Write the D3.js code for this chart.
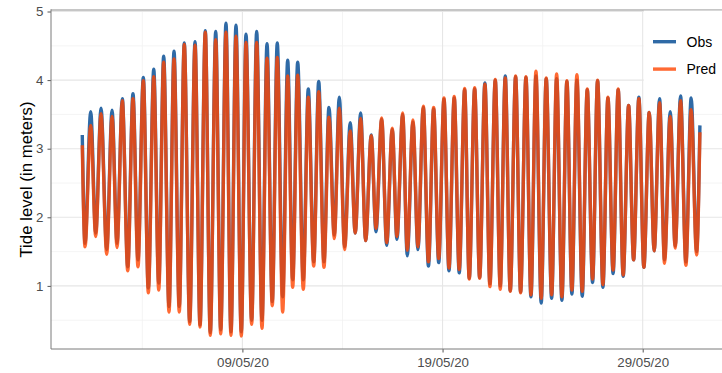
<!DOCTYPE html>
<html>
<head>
<meta charset="utf-8">
<script src="https://cdn.jsdelivr.net/npm/d3@7"></script>
<style>
  html, body { margin: 0; padding: 0; background: #fff; }
  svg { display: block; font-family: "Liberation Sans", Arial, sans-serif; }
</style>
</head>
<body>
<svg id="chart" width="722" height="373"></svg>
<script>
// Tide record, May 2020: first reading at 00:00 on 1 May, then each low and
// high water in turn, then the last reading. Times are hours after 1 May 00:00.
const tideHours = [
  0, 3.3, 10.1, 16.1, 22.5, 29.3, 35.7, 41.7, 48.0, 54.5, 60.8, 66.8, 73.2, 79.2,
  85.7, 91.7, 97.6, 104.0, 110.0, 116.3, 122.3, 128.8, 135.2, 141.2, 147.5, 153.5,
  160.0, 166.0, 172.3, 178.3, 184.3, 190.7, 196.3, 203.1, 209.1, 215.5, 221.5,
  227.8, 233.8, 240.3, 246.3, 252.3, 258.3, 265.0, 271.0, 277.5, 283.5, 289.8,
  295.8, 302.2, 308.2, 314.6, 321.3, 327.3, 333.8, 339.8, 346.5, 352.2, 359.0,
  365.0, 371.7, 377.3, 384.2, 389.7, 396.5, 402.5, 408.9, 415.1, 421.3, 427.4,
  433.7, 439.7, 446.0, 452.0, 458.5, 464.0, 470.5, 476.5, 482.8, 488.8, 495.2,
  501.2, 507.2, 513.2, 519.6, 525.6, 532.0, 538.0, 544.0, 550.3, 556.3, 562.8,
  568.8, 575.1, 581.1, 587.1, 593.1, 599.5, 605.5, 611.9, 617.9, 624.3, 630.3,
  636.5, 642.6, 648.6, 655.1, 661.1, 667.4, 673.4, 679.8, 685.8, 692.2, 698.2,
  705.0, 711.0, 717.4, 723.8, 730.1, 736.6, 740.6
];

// Observed water level (m) at those times
const obsLevel = [
  3.20, 1.62, 3.54, 1.77, 3.59, 1.53, 3.56, 1.62, 3.73, 1.28, 3.80, 1.38, 4.04, 0.97,
  4.16, 1.04, 4.35, 0.70, 4.42, 0.70, 4.54, 0.48, 4.56, 0.43, 4.72, 0.32, 4.71, 0.36,
  4.83, 0.33, 4.80, 0.33, 4.67, 0.50, 4.71, 0.50, 4.53, 0.77, 4.54, 0.84, 4.29, 1.09,
  4.26, 1.09, 3.87, 1.35, 3.98, 1.35, 3.60, 1.74, 3.75, 1.57, 3.38, 1.77, 3.52, 1.66,
  3.20, 1.79, 3.43, 1.59, 3.28, 1.68, 3.50, 1.44, 3.39, 1.53, 3.60, 1.29, 3.58, 1.34,
  3.72, 1.22, 3.74, 1.19, 3.86, 1.11, 3.87, 1.12, 3.96, 1.03, 4.00, 1.00, 4.06, 0.93,
  4.05, 0.91, 4.04, 0.84, 4.06, 0.75, 4.02, 0.82, 4.02, 0.79, 3.98, 0.88, 4.00, 0.85,
  3.86, 1.05, 3.99, 0.98, 3.74, 1.18, 3.86, 1.14, 3.63, 1.38, 3.75, 1.27, 3.53, 1.51,
  3.73, 1.38, 3.54, 1.58, 3.77, 1.35, 3.74, 1.50, 3.34
];

// Predicted water level (m) at those times
const predLevel = [
  3.05, 1.57, 3.34, 1.72, 3.51, 1.46, 3.47, 1.56, 3.70, 1.22, 3.73, 1.28, 3.99, 0.90,
  4.05, 0.94, 4.26, 0.62, 4.31, 0.62, 4.52, 0.44, 4.51, 0.40, 4.70, 0.28, 4.59, 0.30,
  4.70, 0.28, 4.64, 0.27, 4.55, 0.44, 4.55, 0.38, 4.32, 0.71, 4.33, 0.62, 4.06, 0.98,
  4.07, 0.95, 3.75, 1.29, 3.83, 1.27, 3.46, 1.69, 3.59, 1.53, 3.26, 1.77, 3.44, 1.66,
  3.19, 1.84, 3.45, 1.63, 3.30, 1.72, 3.52, 1.52, 3.42, 1.57, 3.62, 1.35, 3.60, 1.40,
  3.74, 1.26, 3.76, 1.24, 3.88, 1.10, 3.89, 1.11, 3.94, 0.99, 4.01, 0.95, 4.03, 0.92,
  4.06, 0.90, 4.05, 0.87, 4.13, 0.82, 4.03, 0.87, 4.09, 0.84, 3.99, 0.94, 4.08, 0.92,
  3.87, 1.10, 4.00, 1.02, 3.75, 1.23, 3.87, 1.16, 3.63, 1.38, 3.73, 1.27, 3.53, 1.51,
  3.67, 1.33, 3.47, 1.55, 3.70, 1.30, 3.57, 1.45, 3.24
];

const seriesNames = ["Obs", "Pred"];
const seriesColors = ["#2f6aa6", "#ff4500"];
const seriesOpacity = [1, 0.8];

const yTicks = [1, 2, 3, 4, 5];
const yMinorTicks = [0.5, 1.5, 2.5, 3.5, 4.5];
const xTickDates = ["2020-05-09", "2020-05-19", "2020-05-29"];
const xMinorDates = ["2020-05-04", "2020-05-14", "2020-05-24"];
const yTitle = "Tide level (in meters)";

const svg = d3.select("#chart");
const panel = { left: 51, right: 724, top: 10, bottom: 349 };

const start = Date.UTC(2020, 4, 1);
const toDate = h => new Date(start + h * 3600e3);
const parseDay = d3.utcParse("%Y-%m-%d");

const x = d3.scaleUtc()
  .domain([parseDay("2020-05-09"), parseDay("2020-05-29")])
  .range([242.4, 642.7]);
const y = d3.scaleLinear().domain([0.08, 5.022]).range([panel.bottom, panel.top]);

// Grid
const grid = svg.append("g");
grid.selectAll(".ymin").data(yMinorTicks).join("line")
  .attr("x1", panel.left).attr("x2", panel.right)
  .attr("y1", d => y(d)).attr("y2", d => y(d))
  .attr("stroke", "#f1f1f1").attr("stroke-width", 0.8);
grid.selectAll(".xmin").data(xMinorDates.map(parseDay)).join("line")
  .attr("x1", d => x(d)).attr("x2", d => x(d))
  .attr("y1", panel.top).attr("y2", panel.bottom)
  .attr("stroke", "#f1f1f1").attr("stroke-width", 0.8);
grid.selectAll(".ymaj").data(yTicks).join("line")
  .attr("x1", panel.left).attr("x2", panel.right)
  .attr("y1", d => y(d)).attr("y2", d => y(d))
  .attr("stroke", "#e6e6e6").attr("stroke-width", 1.1);
grid.selectAll(".xmaj").data(xTickDates.map(parseDay)).join("line")
  .attr("x1", d => x(d)).attr("x2", d => x(d))
  .attr("y1", panel.top).attr("y2", panel.bottom)
  .attr("stroke", "#e6e6e6").attr("stroke-width", 1.1);

// Series lines
const series = [obsLevel, predLevel].map((vals, i) => ({
  name: seriesNames[i],
  color: seriesColors[i],
  opacity: seriesOpacity[i],
  points: tideHours.map((h, j) => ({ t: toDate(h), v: vals[j] }))
}));

const line = d3.line()
  .x(d => x(d.t))
  .y(d => y(d.v))
  .curve(d3.curveMonotoneX);

svg.append("g").selectAll("path").data(series).join("path")
  .attr("d", d => line(d.points))
  .attr("fill", "none")
  .attr("stroke", d => d.color)
  .attr("stroke-opacity", d => d.opacity)
  .attr("stroke-width", 3.4)
  .attr("stroke-linejoin", "round");

// Panel frame
svg.append("line").attr("x1", panel.left).attr("x2", panel.right)
  .attr("y1", panel.top).attr("y2", panel.top)
  .attr("stroke", "#b3b3b3").attr("stroke-width", 1.4);

// Axes
const yAxis = d3.axisLeft(y).tickValues(yTicks).tickSize(3.5).tickPadding(4)
  .tickFormat(d3.format("d"));
const gy = svg.append("g").attr("transform", `translate(${panel.left},0)`).call(yAxis);
gy.select(".domain").remove();
gy.selectAll(".tick line").attr("stroke", "#555");
gy.selectAll(".tick text").attr("fill", "#4d4d4d").style("font-size", "13.3px");

const xAxis = d3.axisBottom(x).tickValues(xTickDates.map(parseDay)).tickSize(3.5)
  .tickPadding(5).tickFormat(d3.utcFormat("%d/%m/%y"));
const gx = svg.append("g").attr("transform", `translate(0,${panel.bottom})`).call(xAxis);
gx.select(".domain").remove();
gx.selectAll(".tick line").attr("stroke", "#555");
gx.selectAll(".tick text").attr("fill", "#4d4d4d").style("font-size", "13.3px");

svg.append("line").attr("x1", panel.left).attr("x2", panel.left)
  .attr("y1", panel.top - 0.7).attr("y2", panel.bottom)
  .attr("stroke", "#7a7a7a").attr("stroke-width", 1);
svg.append("line").attr("x1", panel.left).attr("x2", panel.right)
  .attr("y1", panel.bottom).attr("y2", panel.bottom)
  .attr("stroke", "#7a7a7a").attr("stroke-width", 1);

// Axis title
svg.append("text")
  .attr("transform", `translate(31.5,${(panel.top + panel.bottom) / 2}) rotate(-90)`)
  .attr("text-anchor", "middle")
  .style("font-size", "16.8px")
  .attr("fill", "#000")
  .text(yTitle);

// Legend
const legend = svg.append("g");
legend.append("rect").attr("x", 643.8).attr("y", panel.top + 0.7)
  .attr("width", 80).attr("height", 80).attr("fill", "#fff");
const items = legend.selectAll("g.item").data(series).join("g")
  .attr("transform", (d, i) => `translate(0,${41.7 + i * 27.4})`);
items.append("line").attr("x1", 653).attr("x2", 676).attr("y1", 0).attr("y2", 0)
  .attr("stroke", d => d.color).attr("stroke-opacity", d => d.opacity)
  .attr("stroke-width", 3.4);
items.append("text").attr("x", 686.5).attr("y", 5.3)
  .style("font-size", "14px").attr("fill", "#000")
  .text(d => d.name);
</script>
</body>
</html>
